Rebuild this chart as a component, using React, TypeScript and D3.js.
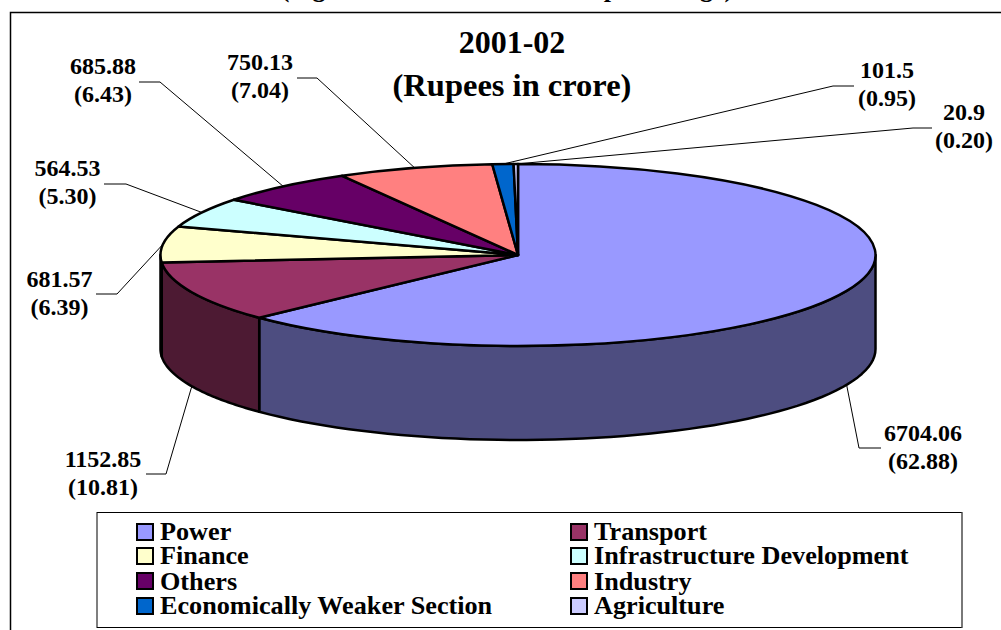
import React from 'react';
import * as d3 from 'd3';

const categories = ['Power', 'Transport', 'Finance', 'Infrastructure Development', 'Others', 'Industry', 'Economically Weaker Section', 'Agriculture'];
const amounts = [6704.06, 1152.85, 681.57, 564.53, 685.88, 750.13, 101.5, 20.9];
const amountLabels = ['6704.06', '1152.85', '681.57', '564.53', '685.88', '750.13', '101.5', '20.9'];
const percents = ['62.88', '10.81', '6.39', '5.30', '6.43', '7.04', '0.95', '0.20'];
const colors = ['#9999FF', '#993366', '#FFFFCC', '#CCFFFF', '#660066', '#FF8080', '#0066CC', '#CCCCFF'];
const legendOrder = [[0, 1], [2, 3], [4, 5], [6, 7]];

// layout of the callouts, same order as categories: label centre, first baseline, elbow and line end
const labelPos = [
  { x: 923, y: 441, elbow: [859, 448], end: 881 },
  { x: 103, y: 467, elbow: [166, 474], end: 146 },
  { x: 59.5, y: 287, elbow: [117, 294], end: 96 },
  { x: 67.5, y: 176, elbow: [126, 184], end: 104 },
  { x: 103, y: 74, elbow: [160, 82], end: 139 },
  { x: 260, y: 70, elbow: [317, 78], end: 297 },
  { x: 887, y: 78, elbow: [833, 86], end: 854 },
  { x: 964, y: 120, elbow: [913, 128], end: 932 },
];
const legendBaselines = [540, 564, 590, 614];
const legendSwatchY = [524, 548, 573, 598];

const cx = 518;
const cy = 255;
const rx = 357.5;
const ry = 91;
const depth = 94;
const font = '"Liberation Serif", serif';

const halve = (c: string) => {
  const { r, g, b } = d3.rgb(c);
  return d3.rgb(r / 2, g / 2, b / 2).formatHex();
};

const project = (a: number, drop = 0): [number, number] => [
  cx + rx * Math.sin(a),
  cy - ry * Math.cos(a) + drop,
];

export default function App() {
  const slices = d3.pie<number>().sort(null)(amounts);
  const arc = d3.arc<d3.PieArcDatum<number>>().innerRadius(0).outerRadius(rx);
  const line = d3.line();

  // only the part of each slice in the front half of the disc shows a wall
  const wall = (s: d3.PieArcDatum<number>) => {
    const a0 = Math.max(s.startAngle, Math.PI / 2);
    const a1 = Math.min(s.endAngle, (Math.PI * 3) / 2);
    if (a1 <= a0) return null;
    const steps = d3.range(0, 61).map((i) => a0 + ((a1 - a0) * i) / 60);
    const top = steps.map((a) => project(a));
    const bottom = steps.slice().reverse().map((a) => project(a, depth));
    return line([...top, ...bottom]) + 'Z';
  };

  const leader = (s: d3.PieArcDatum<number>, i: number) => {
    const mid = (s.startAngle + s.endAngle) / 2;
    const front = Math.cos(mid) < 0;
    const p = labelPos[i];
    return line([project(mid, front ? depth : 0), p.elbow as [number, number], [p.end, p.elbow[1]]]) as string;
  };

  return (
    <svg width={1001} height={630} style={{ position: 'absolute', left: 0, top: 0, display: 'block' }} fontFamily={font} fontWeight="bold">
      <rect width={1001} height={630} fill="#fff" />
      <text x={507} y={-3} fontSize={26} textAnchor="middle">(Figures in brackets indicate percentage)</text>
      <path d="M10.5,630V12.5H1001" fill="none" stroke="#000" strokeWidth={1.5} />

      <text x={512} y={53} fontSize={32} textAnchor="middle">2001-02</text>
      <text x={512} y={96} fontSize={32.5} textAnchor="middle">(Rupees in crore)</text>

      {slices.map((s, i) => {
        const d = wall(s);
        return d ? <path key={i} d={d} fill={halve(colors[i])} stroke="#000" strokeWidth={2.5} strokeLinejoin="round" /> : null;
      })}
      <g transform={`translate(${cx},${cy}) scale(1,${ry / rx})`}>
        {slices.map((s, i) => (
          <path key={i} d={arc(s) as string} fill={colors[i]} stroke="#000" strokeWidth={2.5} strokeLinejoin="round" vectorEffect="non-scaling-stroke" />
        ))}
      </g>

      {slices.map((s, i) => (
        <g key={i}>
          <path d={leader(s, i)} fill="none" stroke="#000" strokeWidth={1} />
          <text x={labelPos[i].x} y={labelPos[i].y} fontSize={24} textAnchor="middle">{amountLabels[i]}</text>
          <text x={labelPos[i].x} y={labelPos[i].y + 28} fontSize={24} textAnchor="middle">({percents[i]})</text>
        </g>
      ))}

      <rect x={97} y={512.5} width={865} height={115} fill="#fff" stroke="#000" strokeWidth={1} />
      <line x1={962} y1={512.5} x2={962} y2={627.5} stroke="#777" strokeWidth={1.5} />
      {legendOrder.map((row, r) =>
        row.map((idx, c) => (
          <g key={idx}>
            <rect x={c === 0 ? 137 : 571} y={legendSwatchY[r]} width={16} height={16} fill={colors[idx]} stroke="#000" strokeWidth={2} />
            <text x={c === 0 ? 160 : 594} y={legendBaselines[r]} fontSize={26.2}>{categories[idx]}</text>
          </g>
        )),
      )}
    </svg>
  );
}
